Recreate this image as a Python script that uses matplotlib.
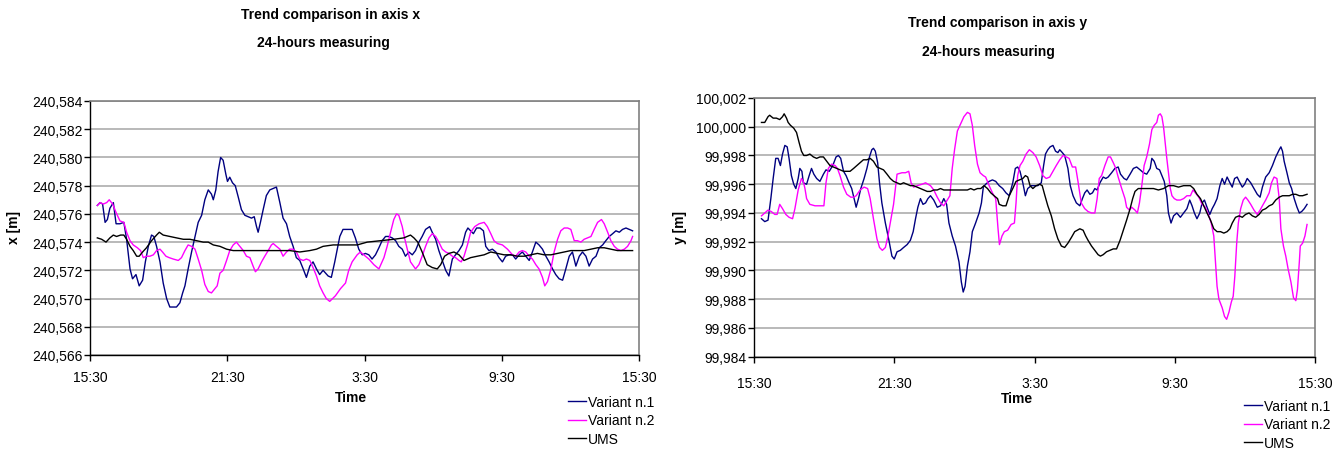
import matplotlib
matplotlib.use("Agg")
import matplotlib.pyplot as plt
from matplotlib.lines import Line2D
from matplotlib.ticker import FuncFormatter

plt.rcParams['font.family'] = ['Liberation Sans', 'DejaVu Sans']

# --- dane: os x (godziny od 15:30) ---
t1x = [0.32, 0.44, 0.55, 0.66, 0.76, 0.87, 1.02, 1.14, 1.31, 1.48, 1.60, 1.75, 1.86, 2.01, 2.15, 2.30,
       2.42, 2.55, 2.69, 2.79, 2.91, 3.06, 3.20, 3.35, 3.49, 3.64, 3.78, 3.93, 4.05, 4.15, 4.29, 4.44,
       4.59, 4.73, 4.88, 5.02, 5.17, 5.31, 5.39, 5.50, 5.60, 5.71, 5.82, 5.94, 6.01, 6.11, 6.23, 6.35,
       6.48, 6.62, 6.77, 6.91, 7.06, 7.18, 7.28, 7.35, 7.45, 7.57, 7.71, 7.86, 8.01, 8.15, 8.30, 8.44,
       8.59, 8.73, 8.88, 9.02, 9.17, 9.32, 9.46, 9.61, 9.75, 9.90, 10.04, 10.19, 10.41, 10.55, 10.70,
       10.92, 11.06, 11.24, 11.46, 11.60, 11.75, 11.90, 12.04, 12.19, 12.33, 12.48, 12.63, 12.77, 12.92,
       13.06, 13.21, 13.36, 13.50, 13.65, 13.79, 13.94, 14.09, 14.23, 14.38, 14.52, 14.67, 14.85, 14.96,
       15.11, 15.25, 15.40, 15.55, 15.69, 15.84, 15.98, 16.13, 16.28, 16.42, 16.52, 16.64, 16.76, 16.90,
       17.05, 17.20, 17.30, 17.44, 17.59, 17.74, 17.88, 18.03, 18.17, 18.32, 18.47, 18.61, 18.76, 18.90,
       19.05, 19.20, 19.34, 19.49, 19.63, 19.78, 19.93, 20.07, 20.22, 20.36, 20.51, 20.66, 20.80, 20.95,
       21.09, 21.24, 21.39, 21.53, 21.68, 21.82, 21.97, 22.12, 22.26, 22.41, 22.55, 22.70, 22.85, 22.99,
       23.14, 23.28, 23.43, 23.58, 23.72]
v1x = [240.5766, 240.5768, 240.5767, 240.5754, 240.5756, 240.5764, 240.5768, 240.5753, 240.5753,
       240.5754, 240.5742, 240.5721, 240.5714, 240.5717, 240.5709, 240.5713, 240.5726, 240.5737,
       240.5745, 240.5744, 240.5737, 240.5726, 240.5711, 240.5700, 240.5694, 240.5694, 240.5694,
       240.5697, 240.5704, 240.5709, 240.5721, 240.5733, 240.5744, 240.5754, 240.5759, 240.5770,
       240.5777, 240.5774, 240.5770, 240.5777, 240.5790, 240.5800, 240.5798, 240.5788, 240.5783,
       240.5786, 240.5782, 240.5780, 240.5772, 240.5763, 240.5759, 240.5758, 240.5757, 240.5758,
       240.5751, 240.5747, 240.5754, 240.5763, 240.5773, 240.5777, 240.5778, 240.5779, 240.5768,
       240.5757, 240.5753, 240.5744, 240.5737, 240.5729, 240.5727, 240.5721, 240.5715, 240.5723,
       240.5726, 240.5721, 240.5717, 240.5720, 240.5716, 240.5715, 240.5726, 240.5744, 240.5749,
       240.5749, 240.5749, 240.5743, 240.5735, 240.5731, 240.5732, 240.5731, 240.5728, 240.5731,
       240.5736, 240.5741, 240.5744, 240.5744, 240.5743, 240.5741, 240.5737, 240.5735, 240.5730,
       240.5733, 240.5731, 240.5734, 240.5740, 240.5744, 240.5749, 240.5751, 240.5747, 240.5742,
       240.5734, 240.5727, 240.5720, 240.5716, 240.5728, 240.5731, 240.5734, 240.5738, 240.5747,
       240.5750, 240.5748, 240.5746, 240.5750, 240.5750, 240.5748, 240.5737, 240.5734, 240.5735,
       240.5733, 240.5729, 240.5726, 240.5730, 240.5731, 240.5731, 240.5728, 240.5731, 240.5733,
       240.5730, 240.5727, 240.5733, 240.5740, 240.5738, 240.5735, 240.5730, 240.5726, 240.5721,
       240.5717, 240.5714, 240.5713, 240.5721, 240.5730, 240.5733, 240.5723, 240.5730, 240.5733,
       240.5730, 240.5723, 240.5728, 240.5730, 240.5736, 240.5738, 240.5741, 240.5744, 240.5746,
       240.5748, 240.5747, 240.5749, 240.5750, 240.5749, 240.5748]

t2x = [0.32, 0.44, 0.58, 0.73, 0.84, 0.99, 1.14, 1.31, 1.48, 1.60, 1.75, 1.89, 2.07, 2.21, 2.33, 2.47,
       2.62, 2.77, 2.91, 3.06, 3.17, 3.32, 3.46, 3.64, 3.86, 4.00, 4.15, 4.29, 4.44, 4.59, 4.73, 4.88,
       5.02, 5.17, 5.31, 5.46, 5.56, 5.68, 5.82, 5.97, 6.11, 6.26, 6.40, 6.55, 6.70, 6.84, 6.99, 7.13,
       7.23, 7.35, 7.50, 7.64, 7.79, 7.93, 8.01, 8.15, 8.30, 8.44, 8.59, 8.73, 8.88, 9.02, 9.17, 9.32,
       9.46, 9.61, 9.75, 9.90, 10.04, 10.19, 10.33, 10.48, 10.73, 10.95, 11.17, 11.31, 11.46, 11.68,
       11.82, 11.97, 12.19, 12.41, 12.63, 12.85, 12.99, 13.14, 13.28, 13.40, 13.50, 13.65, 13.75, 13.87,
       14.01, 14.23, 14.38, 14.52, 14.67, 14.82, 14.96, 15.11, 15.25, 15.40, 15.55, 15.69, 15.84, 15.98,
       16.13, 16.23, 16.35, 16.50, 16.64, 16.82, 17.01, 17.23, 17.37, 17.52, 17.66, 17.81, 18.03, 18.25,
       18.47, 18.61, 18.76, 18.90, 19.05, 19.20, 19.34, 19.49, 19.63, 19.78, 19.88, 20.00, 20.15, 20.29,
       20.44, 20.58, 20.73, 20.88, 21.02, 21.17, 21.31, 21.46, 21.60, 21.75, 21.90, 22.04, 22.19, 22.36,
       22.48, 22.63, 22.77, 22.92, 23.06, 23.21, 23.36, 23.50, 23.65, 23.72]
v2x = [240.5766, 240.5768, 240.5767, 240.5768, 240.5770, 240.5767, 240.5761, 240.5755, 240.5754,
       240.5747, 240.5741, 240.5738, 240.5736, 240.5734, 240.5729, 240.5730, 240.5730, 240.5731,
       240.5734, 240.5735, 240.5733, 240.5730, 240.5729, 240.5728, 240.5727, 240.5729, 240.5734,
       240.5738, 240.5737, 240.5735, 240.5728, 240.5720, 240.5710, 240.5705, 240.5704, 240.5707,
       240.5709, 240.5718, 240.5720, 240.5727, 240.5734, 240.5738, 240.5740, 240.5737, 240.5734,
       240.5730, 240.5729, 240.5723, 240.5719, 240.5721, 240.5726, 240.5730, 240.5734, 240.5738,
       240.5739, 240.5737, 240.5735, 240.5730, 240.5733, 240.5735, 240.5735, 240.5733, 240.5728,
       240.5727, 240.5728, 240.5727, 240.5722, 240.5716, 240.5709, 240.5704, 240.5700, 240.5698,
       240.5702, 240.5707, 240.5711, 240.5720, 240.5726, 240.5731, 240.5733, 240.5731, 240.5728,
       240.5724, 240.5721, 240.5729, 240.5737, 240.5747, 240.5756, 240.5760, 240.5759, 240.5751,
       240.5743, 240.5735, 240.5726, 240.5721, 240.5724, 240.5730, 240.5737, 240.5743, 240.5746,
       240.5744, 240.5740, 240.5735, 240.5733, 240.5732, 240.5730, 240.5729, 240.5727, 240.5726,
       240.5730, 240.5738, 240.5747, 240.5751, 240.5753, 240.5754, 240.5751, 240.5746, 240.5741,
       240.5739, 240.5738, 240.5735, 240.5731, 240.5730, 240.5733, 240.5734, 240.5733, 240.5730,
       240.5728, 240.5724, 240.5721, 240.5715, 240.5709, 240.5712, 240.5721, 240.5733, 240.5742,
       240.5748, 240.5750, 240.5750, 240.5749, 240.5741, 240.5741, 240.5740, 240.5742, 240.5743,
       240.5744, 240.5749, 240.5754, 240.5756, 240.5753, 240.5747, 240.5741, 240.5737, 240.5735,
       240.5734, 240.5735, 240.5737, 240.5741, 240.5744]

tux = [0.32, 0.51, 0.70, 0.87, 1.02, 1.16, 1.34, 1.48, 1.60, 1.75, 1.89, 2.04, 2.15, 2.30, 2.47, 2.69,
       2.91, 3.03, 3.20, 3.49, 3.78, 4.08, 4.37, 4.66, 4.95, 5.17, 5.39, 5.68, 5.97, 6.26, 6.55, 6.99,
       7.42, 7.86, 8.30, 8.73, 9.17, 9.61, 9.90, 10.19, 10.63, 11.09, 11.68, 12.12, 12.70, 13.28, 13.72,
       14.01, 14.16, 14.33, 14.52, 14.74, 14.96, 15.18, 15.33, 15.50, 15.69, 15.91, 16.13, 16.35, 16.64,
       16.93, 17.23, 17.52, 17.81, 18.10, 18.39, 18.69, 18.98, 19.27, 19.56, 19.85, 20.15, 20.44, 20.73,
       21.02, 21.60, 21.90, 22.19, 22.48, 22.77, 23.06, 23.36, 23.72]
vux = [240.5743, 240.5742, 240.5740, 240.5743, 240.5745, 240.5744, 240.5745, 240.5745, 240.5742,
       240.5737, 240.5734, 240.5730, 240.5730, 240.5733, 240.5736, 240.5741, 240.5745, 240.5747,
       240.5745, 240.5744, 240.5743, 240.5742, 240.5742, 240.5741, 240.5740, 240.5740, 240.5738,
       240.5737, 240.5735, 240.5734, 240.5734, 240.5734, 240.5734, 240.5734, 240.5734, 240.5734,
       240.5733, 240.5734, 240.5735, 240.5737, 240.5738, 240.5738, 240.5738, 240.5740, 240.5741,
       240.5742, 240.5743, 240.5745, 240.5743, 240.5740, 240.5733, 240.5724, 240.5722, 240.5721,
       240.5724, 240.5730, 240.5732, 240.5733, 240.5731, 240.5727, 240.5729, 240.5730, 240.5731,
       240.5733, 240.5732, 240.5731, 240.5731, 240.5730, 240.5730, 240.5731, 240.5732, 240.5731,
       240.5731, 240.5732, 240.5733, 240.5734, 240.5734, 240.5735, 240.5736, 240.5736, 240.5735,
       240.5734, 240.5734, 240.5734]

# --- dane: os y ---
t1y = [0.32, 0.46, 0.60, 0.72, 0.82, 0.93, 1.03, 1.13, 1.22, 1.32, 1.42, 1.50, 1.60, 1.70, 1.79, 1.89,
       1.96, 2.05, 2.11, 2.25, 2.36, 2.46, 2.56, 2.68, 2.82, 2.97, 3.08, 3.22, 3.37, 3.51, 3.61, 3.71,
       3.83, 3.94, 4.04, 4.18, 4.28, 4.37, 4.47, 4.57, 4.71, 4.83, 4.94, 5.04, 5.11, 5.19, 5.29, 5.37,
       5.47, 5.62, 5.76, 5.90, 6.00, 6.12, 6.26, 6.40, 6.55, 6.69, 6.81, 6.91, 7.01, 7.12, 7.23, 7.34,
       7.44, 7.55, 7.69, 7.84, 7.98, 8.12, 8.24, 8.34, 8.48, 8.62, 8.77, 8.87, 8.95, 9.03, 9.13, 9.24,
       9.34, 9.48, 9.63, 9.73, 9.81, 9.91, 10.06, 10.20, 10.34, 10.49, 10.64, 10.78, 10.92, 11.07,
       11.18, 11.28, 11.38, 11.50, 11.61, 11.71, 11.86, 12.00, 12.14, 12.29, 12.39, 12.47, 12.57, 12.67,
       12.79, 12.90, 13.00, 13.08, 13.19, 13.29, 13.43, 13.53, 13.65, 13.79, 13.94, 14.05, 14.15, 14.25,
       14.37, 14.48, 14.58, 14.68, 14.80, 14.94, 15.05, 15.15, 15.30, 15.44, 15.58, 15.68, 15.83, 15.94,
       16.09, 16.23, 16.37, 16.52, 16.66, 16.80, 16.95, 17.02, 17.12, 17.23, 17.35, 17.45, 17.55, 17.66,
       17.73, 17.84, 17.95, 18.09, 18.24, 18.38, 18.52, 18.64, 18.74, 18.84, 18.95, 19.07, 19.17, 19.27,
       19.38, 19.50, 19.60, 19.70, 19.81, 19.93, 20.03, 20.13, 20.24, 20.36, 20.46, 20.56, 20.67, 20.79,
       20.89, 20.99, 21.10, 21.25, 21.39, 21.53, 21.65, 21.75, 21.89, 22.04, 22.18, 22.32, 22.47, 22.54,
       22.61, 22.68, 22.80, 22.90, 23.00, 23.11, 23.23, 23.33, 23.43, 23.54, 23.66]
v1y = [99.9936, 99.9934, 99.9935, 99.9950, 99.9964, 99.9978, 99.9978, 99.9973, 99.9981, 99.9987,
       99.9986, 99.9978, 99.9966, 99.9960, 99.9957, 99.9964, 99.9971, 99.9969, 99.9961, 99.9960,
       99.9966, 99.9971, 99.9967, 99.9964, 99.9962, 99.9967, 99.9970, 99.9969, 99.9973, 99.9979,
       99.9980, 99.9978, 99.9969, 99.9966, 99.9962, 99.9957, 99.9950, 99.9944, 99.9950, 99.9957,
       99.9964, 99.9971, 99.9979, 99.9984, 99.9985, 99.9983, 99.9975, 99.9961, 99.9947, 99.9933,
       99.9922, 99.9910, 99.9908, 99.9913, 99.9914, 99.9916, 99.9918, 99.9921, 99.9927, 99.9936,
       99.9944, 99.9950, 99.9946, 99.9947, 99.9950, 99.9952, 99.9949, 99.9944, 99.9945, 99.9950,
       99.9946, 99.9933, 99.9924, 99.9917, 99.9906, 99.9892, 99.9885, 99.9889, 99.9903, 99.9913,
       99.9927, 99.9933, 99.9940, 99.9947, 99.9958, 99.9960, 99.9962, 99.9963, 99.9962, 99.9959,
       99.9957, 99.9954, 99.9952, 99.9961, 99.9971, 99.9972, 99.9969, 99.9961, 99.9952, 99.9957,
       99.9959, 99.9959, 99.9959, 99.9961, 99.9973, 99.9981, 99.9984, 99.9986, 99.9987, 99.9983,
       99.9982, 99.9984, 99.9982, 99.9980, 99.9971, 99.9959, 99.9952, 99.9947, 99.9945, 99.9950,
       99.9954, 99.9956, 99.9953, 99.9954, 99.9957, 99.9956, 99.9961, 99.9965, 99.9964, 99.9965,
       99.9968, 99.9971, 99.9972, 99.9967, 99.9964, 99.9963, 99.9967, 99.9971, 99.9972, 99.9970,
       99.9968, 99.9967, 99.9971, 99.9978, 99.9976, 99.9971, 99.9970, 99.9966, 99.9962, 99.9952,
       99.9940, 99.9933, 99.9938, 99.9940, 99.9937, 99.9940, 99.9943, 99.9949, 99.9945, 99.9940,
       99.9936, 99.9940, 99.9947, 99.9949, 99.9944, 99.9939, 99.9943, 99.9946, 99.9950, 99.9959,
       99.9964, 99.9960, 99.9965, 99.9961, 99.9958, 99.9964, 99.9965, 99.9961, 99.9958, 99.9960,
       99.9964, 99.9961, 99.9957, 99.9953, 99.9951, 99.9958, 99.9965, 99.9968, 99.9973, 99.9979,
       99.9984, 99.9986, 99.9983, 99.9976, 99.9968, 99.9961, 99.9957, 99.9950, 99.9944, 99.9940,
       99.9941, 99.9943, 99.9946]

t2y = [0.32, 0.46, 0.60, 0.74, 0.89, 0.99, 1.10, 1.22, 1.36, 1.50, 1.65, 1.75, 1.89, 2.03, 2.11, 2.18,
       2.25, 2.39, 2.61, 2.82, 2.99, 3.08, 3.18, 3.32, 3.47, 3.57, 3.68, 3.83, 3.97, 4.14, 4.26, 4.37,
       4.54, 4.71, 4.86, 4.97, 5.11, 5.26, 5.37, 5.49, 5.62, 5.72, 5.83, 5.97, 6.12, 6.33, 6.48, 6.62,
       6.72, 6.83, 6.98, 7.19, 7.34, 7.55, 7.69, 7.84, 7.98, 8.12, 8.27, 8.38, 8.48, 8.58, 8.70, 8.84,
       8.98, 9.13, 9.24, 9.34, 9.44, 9.56, 9.67, 9.81, 9.91, 10.06, 10.20, 10.34, 10.44, 10.50, 10.61,
       10.71, 10.85, 11.00, 11.14, 11.21, 11.28, 11.38, 11.50, 11.64, 11.78, 11.93, 12.07, 12.22, 12.36,
       12.50, 12.65, 12.79, 12.93, 13.08, 13.22, 13.36, 13.48, 13.62, 13.76, 13.86, 14.00, 14.15, 14.29,
       14.44, 14.58, 14.68, 14.77, 14.87, 15.01, 15.15, 15.25, 15.37, 15.48, 15.58, 15.73, 15.87, 15.94,
       16.06, 16.16, 16.30, 16.40, 16.49, 16.59, 16.69, 16.80, 16.92, 17.02, 17.12, 17.23, 17.30, 17.38,
       17.45, 17.52, 17.59, 17.66, 17.73, 17.81, 17.88, 17.98, 18.09, 18.24, 18.38, 18.52, 18.67, 18.78,
       18.88, 19.03, 19.17, 19.31, 19.46, 19.56, 19.67, 19.74, 19.81, 19.89, 20.03, 20.13, 20.22, 20.32,
       20.42, 20.50, 20.57, 20.65, 20.72, 20.82, 20.93, 21.03, 21.13, 21.25, 21.39, 21.53, 21.65, 21.75,
       21.89, 22.04, 22.14, 22.25, 22.37, 22.47, 22.54, 22.65, 22.75, 22.85, 22.97, 23.08, 23.18, 23.25,
       23.33, 23.37, 23.47, 23.57, 23.66]
v2y = [99.9938, 99.9940, 99.9942, 99.9941, 99.9939, 99.9939, 99.9946, 99.9943, 99.9939, 99.9937,
       99.9936, 99.9943, 99.9956, 99.9964, 99.9962, 99.9957, 99.9950, 99.9946, 99.9945, 99.9945,
       99.9945, 99.9961, 99.9971, 99.9974, 99.9973, 99.9971, 99.9966, 99.9958, 99.9953, 99.9951,
       99.9951, 99.9952, 99.9956, 99.9958, 99.9957, 99.9950, 99.9936, 99.9922, 99.9916, 99.9914,
       99.9916, 99.9923, 99.9933, 99.9946, 99.9967, 99.9968, 99.9968, 99.9969, 99.9961, 99.9958,
       99.9959, 99.9960, 99.9961, 99.9959, 99.9956, 99.9951, 99.9947, 99.9945, 99.9949, 99.9952,
       99.9971, 99.9984, 99.9997, 100.0002, 100.0007, 100.0010, 100.0009, 100.0001, 99.9987, 99.9974,
       99.9968, 99.9966, 99.9965, 99.9959, 99.9954, 99.9950, 99.9929, 99.9918, 99.9924, 99.9927,
       99.9928, 99.9932, 99.9933, 99.9947, 99.9966, 99.9973, 99.9976, 99.9981, 99.9984, 99.9982,
       99.9979, 99.9973, 99.9966, 99.9964, 99.9965, 99.9969, 99.9973, 99.9977, 99.9980, 99.9979,
       99.9978, 99.9972, 99.9972, 99.9962, 99.9947, 99.9943, 99.9941, 99.9940, 99.9940, 99.9950,
       99.9964, 99.9966, 99.9973, 99.9979, 99.9979, 99.9975, 99.9971, 99.9965, 99.9957, 99.9950,
       99.9944, 99.9942, 99.9944, 99.9942, 99.9940, 99.9947, 99.9959, 99.9973, 99.9979, 99.9988,
       99.9998, 100.0001, 100.0003, 100.0008, 100.0009, 100.0007, 100.0000, 99.9989, 99.9978,
       99.9968, 99.9957, 99.9952, 99.9950, 99.9949, 99.9949, 99.9950, 99.9952, 99.9952, 99.9956,
       99.9954, 99.9951, 99.9946, 99.9944, 99.9938, 99.9933, 99.9924, 99.9906, 99.9889, 99.9880,
       99.9874, 99.9868, 99.9866, 99.9871, 99.9878, 99.9882, 99.9896, 99.9919, 99.9933, 99.9943,
       99.9949, 99.9951, 99.9949, 99.9946, 99.9942, 99.9939, 99.9942, 99.9945, 99.9949, 99.9954,
       99.9961, 99.9965, 99.9964, 99.9950, 99.9929, 99.9917, 99.9910, 99.9901, 99.9892, 99.9881,
       99.9879, 99.9887, 99.9906, 99.9917, 99.9919, 99.9924, 99.9932]

tuy = [0.32, 0.46, 0.60, 0.67, 0.82, 0.96, 1.10, 1.22, 1.29, 1.39, 1.46, 1.56, 1.70, 1.82, 1.93, 2.03,
       2.13, 2.25, 2.39, 2.54, 2.68, 2.82, 2.97, 3.11, 3.25, 3.40, 3.54, 3.68, 3.83, 3.97, 4.11, 4.26,
       4.40, 4.54, 4.68, 4.83, 4.97, 5.11, 5.26, 5.40, 5.54, 5.69, 5.83, 5.97, 6.12, 6.26, 6.40, 6.55,
       6.69, 6.83, 6.98, 7.12, 7.26, 7.41, 7.55, 7.69, 7.84, 7.98, 8.12, 8.27, 8.41, 8.55, 8.70, 8.84,
       8.98, 9.13, 9.27, 9.41, 9.56, 9.70, 9.84, 9.99, 10.13, 10.27, 10.42, 10.49, 10.64, 10.78, 10.92,
       11.07, 11.21, 11.35, 11.50, 11.61, 11.71, 11.81, 11.93, 12.07, 12.22, 12.33, 12.43, 12.57, 12.72,
       12.86, 13.00, 13.15, 13.29, 13.43, 13.58, 13.72, 13.94, 14.08, 14.19, 14.29, 14.44, 14.58, 14.72,
       14.82, 14.94, 15.08, 15.23, 15.37, 15.51, 15.66, 15.80, 15.94, 16.09, 16.20, 16.30, 16.44, 16.66,
       16.87, 17.09, 17.30, 17.52, 17.73, 17.95, 18.16, 18.38, 18.52, 18.67, 18.81, 18.95, 19.10, 19.24,
       19.38, 19.53, 19.67, 19.81, 19.96, 20.10, 20.24, 20.36, 20.46, 20.60, 20.75, 20.89, 21.03, 21.18,
       21.32, 21.46, 21.61, 21.75, 21.89, 22.04, 22.18, 22.32, 22.47, 22.61, 22.75, 22.90, 23.04, 23.18,
       23.33, 23.47, 23.66]
vuy = [100.0003, 100.0003, 100.0007, 100.0008, 100.0006, 100.0006, 100.0005, 100.0007, 100.0009,
       100.0006, 100.0003, 100.0001, 99.9999, 99.9996, 99.9989, 99.9983, 99.9980, 99.9980, 99.9981,
       99.9979, 99.9978, 99.9979, 99.9979, 99.9976, 99.9973, 99.9972, 99.9971, 99.9970, 99.9969,
       99.9969, 99.9969, 99.9971, 99.9973, 99.9975, 99.9977, 99.9977, 99.9978, 99.9976, 99.9972,
       99.9971, 99.9970, 99.9967, 99.9964, 99.9962, 99.9961, 99.9960, 99.9961, 99.9960, 99.9959,
       99.9959, 99.9958, 99.9957, 99.9956, 99.9955, 99.9955, 99.9956, 99.9956, 99.9957, 99.9956,
       99.9956, 99.9956, 99.9956, 99.9956, 99.9956, 99.9956, 99.9956, 99.9957, 99.9956, 99.9957,
       99.9957, 99.9959, 99.9957, 99.9954, 99.9952, 99.9950, 99.9946, 99.9945, 99.9945, 99.9952,
       99.9957, 99.9962, 99.9963, 99.9964, 99.9966, 99.9965, 99.9959, 99.9957, 99.9959, 99.9960,
       99.9959, 99.9953, 99.9945, 99.9938, 99.9929, 99.9922, 99.9917, 99.9916, 99.9919, 99.9923,
       99.9927, 99.9929, 99.9928, 99.9924, 99.9921, 99.9917, 99.9914, 99.9911, 99.9910, 99.9911,
       99.9913, 99.9914, 99.9915, 99.9915, 99.9921, 99.9928, 99.9935, 99.9943, 99.9950, 99.9955,
       99.9957, 99.9957, 99.9957, 99.9957, 99.9956, 99.9957, 99.9959, 99.9959, 99.9958, 99.9959,
       99.9959, 99.9959, 99.9957, 99.9953, 99.9950, 99.9945, 99.9940, 99.9935, 99.9929, 99.9927,
       99.9927, 99.9926, 99.9927, 99.9929, 99.9933, 99.9937, 99.9938, 99.9937, 99.9939, 99.9940,
       99.9938, 99.9937, 99.9939, 99.9942, 99.9943, 99.9945, 99.9946, 99.9949, 99.9951, 99.9952,
       99.9952, 99.9952, 99.9953, 99.9953, 99.9952, 99.9952, 99.9953]

time_ticks = [0, 6, 12, 18, 24]
time_labels = ["15:30", "21:30", "3:30", "9:30", "15:30"]
series_names = ["Variant n.1", "Variant n.2", "UMS"]
colors = ["#000080", "#ff00ff", "#000000"]

W, H = 1342, 452
fig = plt.figure(figsize=(W / 100, H / 100), dpi=100)

comma = FuncFormatter(lambda v, p: f"{v:.3f}".replace(".", ","))


def style_axes(ax, ylim, label_pad):
    ax.set_xlim(0, 24)
    ax.set_ylim(*ylim)
    ax.set_yticks([round(ylim[0] + 0.002 * i, 3) for i in range(10)])
    ax.yaxis.set_major_formatter(comma)
    ax.set_xticks(time_ticks)
    ax.set_xticklabels(time_labels)
    ax.grid(axis="y", color="#a6a6a6", linewidth=1.1)
    ax.set_axisbelow(True)
    for s in ["top", "right"]:
        ax.spines[s].set_color("#808080")
        ax.spines[s].set_linewidth(1.2)
    for s in ["left", "bottom"]:
        ax.spines[s].set_color("black")
        ax.spines[s].set_linewidth(1.0)
    ax.tick_params(axis="y", direction="out", length=4, width=1, pad=1.5, labelsize=10)
    ax.tick_params(axis="x", direction="out", length=4, width=1, pad=label_pad, labelsize=10)


# Wykres lewy - os x
ax1 = fig.add_axes([90 / W, 1 - 356 / H, 549 / W, 254 / H])
ax1.plot(t1x, v1x, color=colors[0], lw=1.0)
ax1.plot(t2x, v2x, color=colors[1], lw=1.0)
ax1.plot(tux, vux, color=colors[2], lw=1.0)
style_axes(ax1, (240.566, 240.584), 7)

# Wykres prawy - os y
ax2 = fig.add_axes([754 / W, 1 - 357.7 / H, 561 / W, 258.7 / H])
ax2.plot(t1y, v1y, color=colors[0], lw=1.0)
ax2.plot(t2y, v2y, color=colors[1], lw=1.0)
ax2.plot(tuy, vuy, color=colors[2], lw=1.0)
style_axes(ax2, (99.984, 100.002), 10)

# Tytuly i opisy osi
fig.text(331 / W, 1 - 15 / H, "Trend comparison in axis x", ha="center", va="center", fontsize=10, weight="bold")
fig.text(323 / W, 1 - 43 / H, "24-hours measuring", ha="center", va="center", fontsize=10, weight="bold")
fig.text(998 / W, 1 - 23 / H, "Trend comparison in axis y", ha="center", va="center", fontsize=10, weight="bold")
fig.text(988 / W, 1 - 52 / H, "24-hours measuring", ha="center", va="center", fontsize=10, weight="bold")
fig.text(351 / W, 1 - 398 / H, "Time", ha="center", va="center", fontsize=10, weight="bold")
fig.text(1017 / W, 1 - 399 / H, "Time", ha="center", va="center", fontsize=10, weight="bold")
fig.text(14 / W, 1 - 228 / H, "x [m]", ha="center", va="center", rotation=90, fontsize=10, weight="bold")
fig.text(680 / W, 1 - 228 / H, "y [m]", ha="center", va="center", rotation=90, fontsize=10, weight="bold")

# Legendy
handles = [Line2D([], [], color=c, lw=1.0) for c in colors]
for x0, y0 in [(568, 396), (1244, 400)]:
    fig.legend(handles, series_names, loc="upper left", bbox_to_anchor=(x0 / W, 1 - y0 / H),
               frameon=False, fontsize=10, handlelength=1.3, handletextpad=0.15,
               labelspacing=0.32, borderpad=0, borderaxespad=0)

fig.savefig("out.png", dpi=100)
